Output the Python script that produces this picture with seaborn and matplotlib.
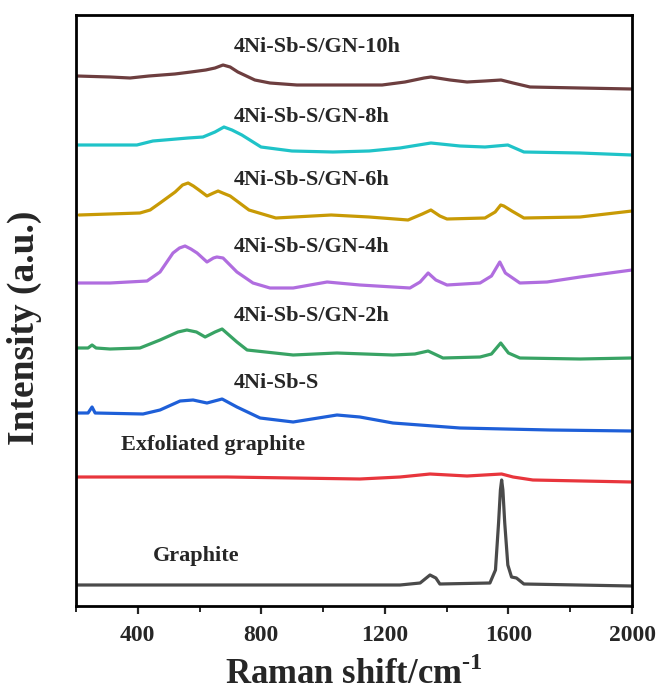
import matplotlib
matplotlib.use("Agg")
import matplotlib.pyplot as plt
import seaborn as sns
import pandas as pd
from matplotlib.ticker import MultipleLocator

sns.set_style("ticks")
plt.rcParams['font.family'] = ['Liberation Serif', 'DejaVu Serif']
plt.rcParams['font.weight'] = 'bold'
plt.rcParams['mathtext.fontset'] = 'custom'
plt.rcParams['mathtext.rm'] = 'Liberation Serif:bold'
plt.rcParams['mathtext.bf'] = 'Liberation Serif:bold'

# ---- data (Raman shift in cm-1, stacked intensity in a.u.) ----
x_10h = [203, 310, 375, 436, 520, 572, 620, 650, 676, 699, 724, 779, 828, 915, 1055, 1191, 1265, 1327, 1349, 1411, 1466, 1524, 1576, 1615, 1670, 1832, 2000]
y_10h = [532, 531, 530, 532, 534, 536, 538, 540, 543, 541, 536, 528, 525, 523, 523, 523, 526, 530, 531, 528, 526, 527, 528, 525, 521, 520, 519]

x_8h = [203, 397, 449, 563, 611, 650, 679, 705, 737, 799, 899, 1032, 1149, 1249, 1349, 1443, 1524, 1598, 1650, 1832, 2000]
y_8h = [463, 463, 467, 470, 471, 476, 481, 478, 473, 461, 457, 456, 457, 460, 465, 462, 461, 463, 456, 455, 453]

x_6h = [210, 407, 440, 472, 521, 545, 563, 580, 598, 624, 645, 660, 675, 699, 760, 847, 1026, 1149, 1275, 1321, 1349, 1378, 1401, 1524, 1557, 1575, 1585, 1611, 1650, 1832, 2000]
y_6h = [393, 395, 398, 405, 416, 423, 425, 422, 418, 412, 415, 417, 415, 412, 398, 390, 393, 391, 388, 394, 398, 392, 389, 390, 396, 403, 402, 397, 390, 391, 397]

x_4h = [203, 310, 430, 472, 514, 535, 553, 572, 592, 624, 645, 656, 676, 721, 773, 828, 903, 1013, 1119, 1281, 1314, 1340, 1365, 1401, 1508, 1545, 1572, 1590, 1637, 1725, 1832, 2000]
y_4h = [325, 325, 327, 336, 355, 360, 362, 359, 355, 346, 350, 351, 350, 336, 325, 320, 320, 326, 323, 320, 326, 335, 328, 323, 325, 332, 346, 335, 325, 326, 331, 338]

x_2h = [203, 239, 252, 265, 310, 407, 472, 530, 559, 590, 618, 650, 673, 721, 754, 903, 1045, 1226, 1297, 1340, 1388, 1508, 1545, 1575, 1600, 1637, 1832, 2000]
y_2h = [260, 260, 263, 260, 259, 260, 268, 276, 278, 276, 271, 276, 279, 266, 258, 253, 255, 253, 254, 257, 250, 251, 254, 265, 255, 250, 249, 250]

x_nss = [203, 239, 252, 262, 417, 472, 537, 579, 624, 673, 721, 796, 903, 1045, 1119, 1226, 1443, 1735, 2000]
y_nss = [195, 195, 201, 195, 194, 198, 207, 208, 205, 209, 201, 190, 186, 193, 191, 185, 180, 178, 177]

x_exf = [203, 689, 1119, 1249, 1346, 1466, 1578, 1615, 1679, 2000]
y_exf = [131, 131, 129, 131, 134, 132, 134, 131, 128, 126]

x_gr = [203, 925, 1249, 1314, 1346, 1365, 1378, 1540, 1558, 1568, 1574, 1578, 1582, 1588, 1598, 1610, 1626, 1650, 2000]
y_gr = [23, 23, 23, 25, 33, 30, 24, 25, 38, 85, 118, 128, 118, 85, 43, 31, 30, 24, 22]

names = ["4Ni-Sb-S/GN-10h", "4Ni-Sb-S/GN-8h", "4Ni-Sb-S/GN-6h", "4Ni-Sb-S/GN-4h",
         "4Ni-Sb-S/GN-2h", "4Ni-Sb-S", "Exfoliated graphite", "Graphite"]
colors = ["#6d3e3f", "#1fc3c8", "#c89a05", "#b06ddf", "#38a364", "#1e5fd8", "#e8353c", "#4a4a4a"]
label_x = [234, 234, 234, 234, 234, 234, 121, 153]        # pixel-ish positions of the text labels
label_y = [561, 491, 428, 361, 292, 225, 163, 52]

xs = [x_10h, x_8h, x_6h, x_4h, x_2h, x_nss, x_exf, x_gr]
ys = [y_10h, y_8h, y_6h, y_4h, y_2h, y_nss, y_exf, y_gr]

fig = plt.figure(figsize=(6.63, 6.95), dpi=100)
ax = fig.add_axes([76/663, 1-606/695, (632-76)/663, (606-15)/695])

for n, c, x, y in zip(names, colors, xs, ys):
    df = pd.DataFrame({"shift": x, "intensity": y})
    sns.lineplot(data=df, x="shift", y="intensity", color=c, lw=2.3, ax=ax,
                 sort=False, estimator=None)

ax.set_xlim(200, 2000)
ax.set_ylim(2, 593)
for n, lx, ly in zip(names, label_x, label_y):
    xd = 200 + (lx - 76) * 1800 / 556
    ax.text(xd, ly, n, fontsize=16, fontweight='bold', ha='left', va='center')

ax.xaxis.set_minor_locator(MultipleLocator(200))
ax.set_xticks([400, 800, 1200, 1600, 2000])
ax.tick_params(axis='x', which='major', direction='out', length=6, width=1.6, labelsize=17, pad=8)
ax.tick_params(axis='x', which='minor', direction='out', length=4, width=1.4)
ax.set_yticks([])
for lab in ax.get_xticklabels():
    lab.set_fontweight('bold')
for s in ax.spines.values():
    s.set_linewidth(2)
    s.set_color('black')

ax.set_xlabel("Raman shift/cm$^{\\text{-}1}$", fontsize=25, fontweight='bold', labelpad=8)
ax.set_ylabel("Intensity (a.u.)", fontsize=27, fontweight='bold')
ax.yaxis.set_label_coords(-0.062, 0.47)

fig.savefig("out.png", dpi=100)
